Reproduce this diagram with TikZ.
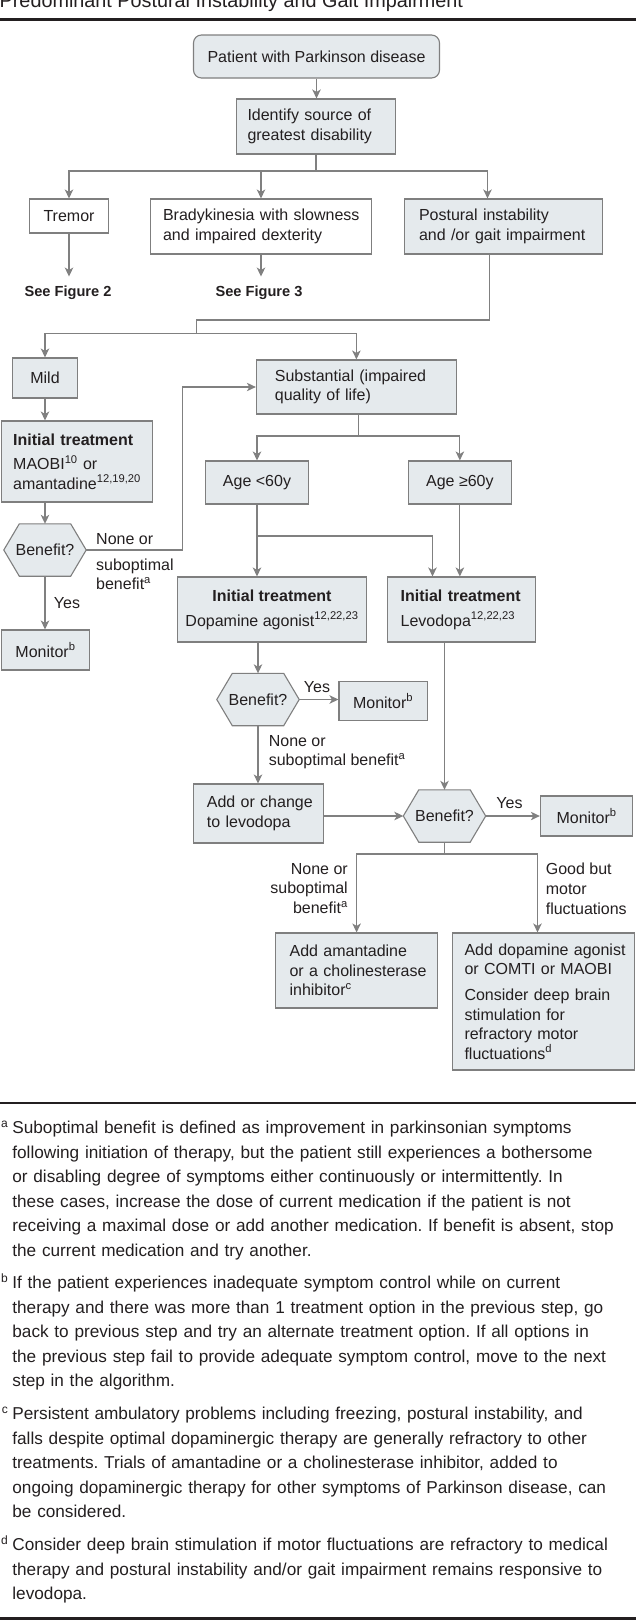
\documentclass[tikz,border=0pt]{standalone}
\usepackage{fontspec}
\setmainfont{Liberation Sans}
\usetikzlibrary{arrows.meta,backgrounds}
\definecolor{bf}{HTML}{E5EAED}
\definecolor{bc}{HTML}{7F7F7F}
\definecolor{lc}{HTML}{808080}
\definecolor{tc}{HTML}{231F20}
\newcommand{\nbr}[1]{\mbox{#1}}
\frenchspacing
\begin{document}
\begin{tikzpicture}[x=1pt,y=-1pt,
  every node/.style={text=tc, font=\fontsize{16}{19.6}\selectfont, inner sep=0pt},
  bold/.style={font=\fontsize{14.6}{18}\selectfont\bfseries},
  gbox/.style={draw=bc, fill=bf, line width=1.1pt},
  wbox/.style={draw=bc, fill=white, line width=1.1pt},
  hex/.style={minimum width=82pt, minimum height=52pt},
  hexdraw/.style={draw=bc, fill=bf, line width=1.1pt},
  conn/.style={draw=lc, line width=1.2pt},
  arr/.style={conn, -{Stealth[length=9pt,width=8.5pt,inset=2.5pt]}},
  rule/.style={line width=2.3pt, draw=tc},
  foot/.style={anchor=north west, align=left, text width=640pt, font=\fontsize{17.2}{24.5}\selectfont\frenchspacing}
]
\useasboundingbox (0,0) rectangle (636,1620);

% title and rules
\node[anchor=base west, font=\fontsize{19.8}{21}\selectfont] (title) at (-0.5,7.3) {Predominant Postural Instability and Gait Impairment};
\draw[rule] (0,19.5) -- (636,19.5);
\draw[rule] (0,1102.7) -- (636,1102.7);
\draw[rule] (0,1618.5) -- (636,1618.5);

% boxes
\node[gbox, rounded corners=8pt, minimum width=246pt, minimum height=43pt] (patient) at (316.5,56.5) {Patient with Parkinson disease};
\node[gbox, minimum width=159pt, minimum height=55pt, text width=137pt, align=left] (identify) at (316,126.5) {\nbr{Identify source of}\\\nbr{greatest disability}};
\node[wbox, minimum width=79.5pt, minimum height=34pt] (tremor) at (69,216) {Tremor};
\node[wbox, minimum width=221pt, minimum height=55pt, text width=196pt, align=left] (brady) at (261,226.5) {\nbr{Bradykinesia with slowness}\\\nbr{and impaired dexterity}};
\node[gbox, minimum width=198pt, minimum height=55pt, text width=169pt, align=left] (postural) at (503.5,226.5) {\nbr{Postural instability}\\\nbr{and /or gait impairment}};
\node[bold, inner ysep=9.4pt, anchor=base] (see2) at (68,296.7) {See Figure 2};
\node[bold, inner ysep=9.4pt, anchor=base] (see3) at (259,296.7) {See Figure 3};

\node[gbox, minimum width=65pt, minimum height=40pt] (mild) at (45,378) {Mild};
\node[gbox, minimum width=200pt, minimum height=54pt, text width=163pt, align=left] (subst) at (356.4,387) {\nbr{Substantial (impaired}\\\nbr{quality of life)}};
\node[gbox, minimum width=151pt, minimum height=81pt, text width=128pt, align=left] (init1) at (77.2,461.5) {\nbr{\textbf{Initial treatment}}\\[4.4pt]\nbr{MAOBI\textsuperscript{10} or}\\\nbr{amantadine\textsuperscript{12,19,20}}};
\node[hex] (ben1) at (45,550) {Benefit?};
\node[gbox, minimum width=87.6pt, minimum height=40pt] (mon1) at (45.5,650) {Monitor\textsuperscript{b}};

\node[gbox, minimum width=102.6pt, minimum height=43pt] (age1) at (257,482.5) {Age <60y};
\node[gbox, minimum width=102.7pt, minimum height=43pt] (age2) at (459.85,482.5) {Age ≥60y};
\node[gbox, minimum width=188.6pt, minimum height=65pt, align=center] (dopa) at (272,609.5) {\textbf{Initial treatment}\\[5.4pt]Dopamine agonist\textsuperscript{12,22,23}};
\node[gbox, minimum width=147.7pt, minimum height=65pt, text width=122pt, align=left] (levo) at (461.65,609.5) {\nbr{\textbf{Initial treatment}}\\[5.4pt]\nbr{Levodopa\textsuperscript{12,22,23}}};

\node[hex] (ben2) at (258,699.5) {Benefit?};
\node[gbox, minimum width=88.2pt, minimum height=39pt] (mon2) at (383.1,701) {Monitor\textsuperscript{b}};
\node[gbox, minimum width=129.8pt, minimum height=59pt, text width=103pt, align=left] (addch) at (258.4,813.5) {\nbr{Add or change}\\\nbr{to levodopa}};
\node[hex] (ben3) at (444.5,816) {Benefit?};
\node[gbox, minimum width=92.5pt, minimum height=40pt] (mon3) at (586.65,816) {Monitor\textsuperscript{b}};
\node[gbox, minimum width=161.4pt, minimum height=75pt, text width=134pt, align=left] (amant) at (356.6,970.5) {\nbr{Add amantadine}\\\nbr{or a cholinesterase}\\\nbr{inhibitor\textsuperscript{c}}};
\node[gbox, minimum width=182pt, minimum height=137pt, text width=158pt, align=left] (rightbox) at (543.5,1001.5) {\nbr{Add dopamine agonist}\\\nbr{or COMTI or MAOBI}\\[6pt]\nbr{Consider deep brain}\\\nbr{stimulation for}\\\nbr{refractory motor}\\\nbr{fluctuations\textsuperscript{d}}};

% hexagon outlines
\begin{scope}[on background layer]
\foreach \h in {ben1,ben2,ben3}{
  \draw[hexdraw] (\h.west) -- ([xshift=15.5pt]\h.north west) -- ([xshift=-15.5pt]\h.north east) -- (\h.east) -- ([xshift=-15.5pt]\h.south east) -- ([xshift=15.5pt]\h.south west) -- cycle;
}
\end{scope}

% labels
\node (yes1) at (67,603) {Yes};
\node[anchor=north west, align=left] (nb1) at (96,533) {None or\\[6.4pt]suboptimal\\benefit\textsuperscript{a}};
\node (yes2) at (317,687) {Yes};
\node[anchor=north west, align=left] (nb2) at (268.6,735) {None or\\suboptimal benefit\textsuperscript{a}};
\node (yes3) at (509.5,803) {Yes};
\node[anchor=north east, align=right] (nb3) at (348,863) {None or\\suboptimal\\benefit\textsuperscript{a}};
\node[anchor=north west, align=left] (gb) at (545.6,863) {Good but\\motor\\fluctuations};

% connectors
\draw[arr] (patient.south) -- (patient.south |- identify.north);
\coordinate (j1) at (316,171);
\draw[conn] (identify.south) -- (j1);
\draw[arr] (j1) -| (tremor.north);
\draw[arr] (j1) -| (brady.north);
\draw[arr] (j1) -| ([xshift=-16pt]postural.north);
\draw[arr] (tremor.south) -- (tremor.south |- see2.north);
\draw[arr] (brady.south) -- (brady.south |- see3.north);

\coordinate (j2) at (196.3,320);
\coordinate (j3) at (196.3,333.3);
\draw[conn] ([xshift=-13.8pt]postural.south) |- (j2) -- (j3);
\draw[arr] (j3) -| (mild.north);
\draw[arr] (j3) -| (subst.north);
\draw[arr] (mild.south) -- (mild.south |- init1.north);
\draw[arr] (ben1.north |- init1.south) -- (ben1.north);
\draw[arr] (ben1.south) -- (ben1.south |- mon1.north);
\coordinate (j4) at (182.7,550);
\draw[arr] (ben1.east) -- (j4) |- (subst.west);

\coordinate (j5) at (358.2,436);
\draw[conn] (subst.south -| j5) -- (j5);
\draw[arr] (j5) -| (age1.north);
\draw[arr] (j5) -| (age2.north);
\draw[arr] (age1.south) -- (age1.south |- dopa.north);
\coordinate (j6) at (257,536);
\draw[arr] (j6) -| ([xshift=-29.15pt]levo.north);
\draw[arr] (age2.south) -- (age2.south |- levo.north);

\draw[arr] (ben2.north |- dopa.south) -- (ben2.north);
\draw[arr] (ben2.east) -- (ben2.east -| mon2.west);
\draw[arr] (ben2.south) -- (ben2.south |- addch.north);
\draw[arr] (addch.east |- ben3.west) -- (ben3.west);
\draw[arr] (ben3.north |- levo.south) -- (ben3.north);
\draw[arr] (ben3.east) -- (ben3.east -| mon3.west);
\coordinate (j7) at (444.5,854);
\draw[conn] (ben3.south) -- (j7);
\draw[arr] (j7) -| (amant.north);
\draw[arr] (j7) -| ([xshift=-6pt]rightbox.north);

% footnotes
\node[foot] (fa) at (12.2,1121) {\llap{\smash{\textsuperscript{a}}\hspace{4pt}}Suboptimal benefit is defined as improvement in parkinsonian symptoms\\following initiation of therapy, but the patient still experiences a bothersome\\or disabling degree of symptoms either continuously or intermittently. In\\these cases, increase the dose of current medication if the patient is not\\receiving a maximal dose or add another medication. If benefit is absent, stop\\the current medication and try another.};
\node[foot] (fb) at (12.2,1276) {\llap{\smash{\textsuperscript{b}}\hspace{4pt}}If the patient experiences inadequate symptom control while on current\\therapy and there was more than 1 treatment option in the previous step, go\\back to previous step and try an alternate treatment option. If all options in\\the previous step fail to provide adequate symptom control, move to the next\\step in the algorithm.};
\node[foot] (fc) at (12.2,1407) {\llap{\smash{\textsuperscript{c}}\hspace{4pt}}Persistent ambulatory problems including freezing, postural instability, and\\falls despite optimal dopaminergic therapy are generally refractory to other\\treatments. Trials of amantadine or a cholinesterase inhibitor, added to\\ongoing dopaminergic therapy for other symptoms of Parkinson disease, can\\be considered.};
\node[foot] (fd) at (12.2,1538) {\llap{\smash{\textsuperscript{d}}\hspace{4pt}}Consider deep brain stimulation if motor fluctuations are refractory to medical\\therapy and postural instability and/or gait impairment remains responsive to\\levodopa.};
\end{tikzpicture}
\end{document}
